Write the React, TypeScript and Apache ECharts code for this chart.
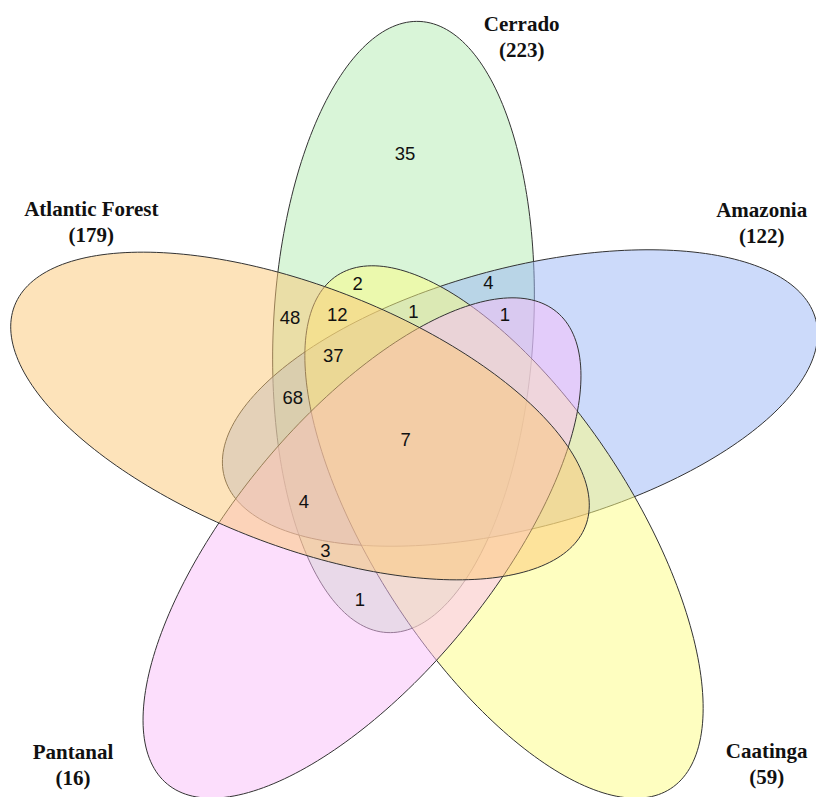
import React, { useEffect, useRef } from "react";
import * as echarts from "echarts";

// ---- data ----
const setNames = ["Cerrado", "Amazonia", "Caatinga", "Pantanal", "Atlantic Forest"];
const setCounts = [223, 122, 59, 16, 179];
const regionCounts = [35, 2, 48, 12, 1, 4, 1, 37, 68, 7, 4, 3, 1];

// ---- layout (pixel-like units on hidden axes) ----
const ellipseCenters = [
  [403.5, 327],
  [520, 398],
  [504, 532],
  [362, 548],
  [300, 416],
];
const ellipseAngles = [86.9, 14.9, 303.0, 230.5, 158.9];
const SEMI_MAJOR = 306;
const SEMI_MINOR = 130;
const ellipseFills = [
  "rgba(179,235,177,0.5)",
  "rgba(153,181,245,0.5)",
  "rgba(253,253,129,0.5)",
  "rgba(249,189,249,0.5)",
  "rgba(251,199,117,0.5)",
];
const setLabelPos = [
  [521.7, 37],
  [761.7, 222.5],
  [766.7, 764],
  [73, 765],
  [91.3, 222],
];
const regionLabelPos = [
  [405, 153],
  [357.7, 283.3],
  [290, 317.3],
  [337.3, 314],
  [413.3, 311.7],
  [488.3, 282.7],
  [505, 314],
  [333.3, 355],
  [292.7, 397.7],
  [405.7, 439],
  [304, 501],
  [325.3, 550],
  [360, 599],
];

const W = 816;
const H = 797;

export default function App() {
  const ref = useRef<HTMLDivElement>(null);
  useEffect(() => {
    document.body.style.margin = "0";
    document.body.style.overflow = "hidden";
    const chart = echarts.init(ref.current!, null, { renderer: "svg" });
    const ellipseData = ellipseCenters.map((c, i) => [c[0], c[1], ellipseAngles[i], i]);
    const setLabelData = setLabelPos.map((p, i) => [p[0], p[1], i]);
    const regionData = regionLabelPos.map((p, i) => [p[0], p[1], i]);
    chart.setOption({
      animation: false,
      backgroundColor: "#ffffff",
      grid: { left: 0, right: 0, top: 0, bottom: 0 },
      xAxis: { type: "value", min: 0, max: W, show: false },
      yAxis: { type: "value", min: 0, max: H, inverse: true, show: false },
      series: [
        {
          type: "custom",
          clip: false,
          data: ellipseData,
          renderItem: (params: any, api: any) => {
            const cx = api.value(0);
            const cy = api.value(1);
            const th = (api.value(2) * Math.PI) / 180;
            const idx = api.value(3);
            const pts: number[][] = [];
            const N = 240;
            for (let k = 0; k < N; k++) {
              const t = (2 * Math.PI * k) / N;
              const x = cx + SEMI_MAJOR * Math.cos(t) * Math.cos(th) - SEMI_MINOR * Math.sin(t) * Math.sin(th);
              const y = cy - (SEMI_MAJOR * Math.cos(t) * Math.sin(th) + SEMI_MINOR * Math.sin(t) * Math.cos(th));
              pts.push(api.coord([x, y]));
            }
            return {
              type: "polygon",
              shape: { points: pts },
              style: { fill: ellipseFills[idx], stroke: "#333333", lineWidth: 1 },
            };
          },
        },
        {
          type: "custom",
          clip: false,
          data: regionData,
          renderItem: (params: any, api: any) => {
            const p = api.coord([api.value(0), api.value(1)]);
            const idx = api.value(2);
            return {
              type: "text",
              x: p[0],
              y: p[1],
              style: {
                text: String(regionCounts[idx]),
                fill: "#111111",
                fontSize: 18.5,
                fontFamily: "Liberation Sans, Arial, sans-serif",
                align: "center",
                verticalAlign: "middle",
              },
            };
          },
        },
        {
          type: "custom",
          clip: false,
          data: setLabelData,
          renderItem: (params: any, api: any) => {
            const p = api.coord([api.value(0), api.value(1)]);
            const idx = api.value(2);
            return {
              type: "text",
              x: p[0],
              y: p[1],
              style: {
                text: setNames[idx] + "\n(" + setCounts[idx] + ")",
                fill: "#111111",
                fontSize: 21,
                fontWeight: "bold",
                lineHeight: 26,
                fontFamily: "Liberation Serif, Times New Roman, serif",
                align: "center",
                verticalAlign: "middle",
              },
            };
          },
        },
      ],
    });
    return () => chart.dispose();
  }, []);
  return <div ref={ref} style={{ width: W, height: H }} />;
}
